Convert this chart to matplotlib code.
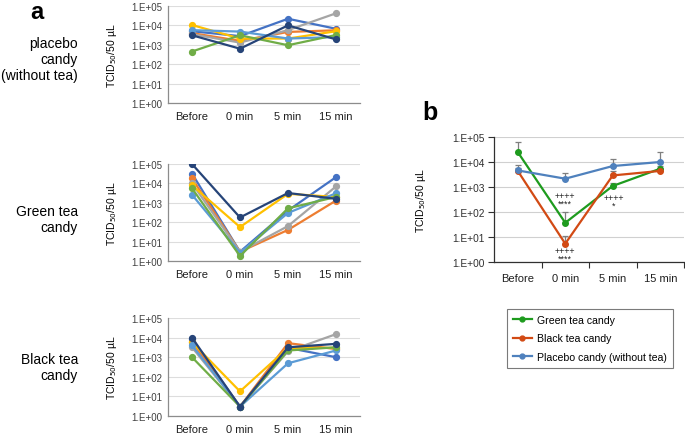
import matplotlib
matplotlib.use("Agg")
import matplotlib.pyplot as plt
from matplotlib.lines import Line2D
import numpy as np

plt.rcParams['font.family'] = ['Liberation Sans', 'DejaVu Sans']

categories = ["Before", "0 min", "5 min", "15 min"]
ytick_vals = [1, 10, 100, 1000, 10000, 100000]
ytick_labels = ["1.E+00", "1.E+01", "1.E+02", "1.E+03", "1.E+04", "1.E+05"]

series_colors = ["#4472C4", "#ED7D31", "#A5A5A5", "#FFC000", "#5B9BD5", "#70AD47", "#264478"]

# panel a: individual subjects
placebo = [
    [5000, 2800, 22000, 6700],
    [4000, 1600, 4600, 5600],
    [3500, 1300, 5700, 42000],
    [10500, 2100, 2100, 5000],
    [5700, 4800, 2100, 2500],
    [450, 3100, 950, 3200],
    [3100, 630, 10000, 1900],
]
green_tea = [
    [32000, 3, 400, 21000],
    [18000, 3, 40, 1300],
    [10000, 3, 63, 7000],
    [8000, 56, 2900, 2000],
    [2600, 2.7, 300, 3100],
    [5600, 1.8, 520, 2000],
    [100000, 175, 3200, 1600],
]
black_tea = [
    [8000, 3, 3000, 1000],
    [6000, 3, 5200, 2600],
    [3200, 3, 2000, 15000],
    [5800, 18, 3000, 3000],
    [4000, 3, 490, 2200],
    [1000, 3, 2200, 3200],
    [10000, 3, 3200, 4800],
]
row_labels = ["placebo\ncandy\n(without tea)", "Green tea\ncandy", "Black tea\ncandy"]

# panel b: means with upper error bars
b_labels = ["Green tea candy", "Black tea candy", "Placebo candy (without tea)"]
b_colors = ["#1E9B1E", "#D24A14", "#4F81BD"]
b_means = [
    [25000, 37, 1100, 5400],
    [4400, 5.4, 2900, 4400],
    [4600, 2150, 6900, 10000],
]
b_upper = [
    [61000, 100, 1500, 7000],
    [6000, 11, 4400, 5500],
    [7700, 3600, 13000, 25000],
]

W, H = 685, 435
fig = plt.figure(figsize=(W / 100, H / 100), dpi=100)

def fr(x0, y_top, x1, y_bot):
    return [x0 / W, 1 - y_bot / H, (x1 - x0) / W, (y_bot - y_top) / H]

a_rects = [fr(168, 7, 360, 104), fr(168, 165, 360, 262), fr(168, 319, 360, 417)]
row_centers = [60, 220, 368]
x = np.arange(len(categories))

for rect, data, lab, yc in zip(a_rects, [placebo, green_tea, black_tea], row_labels, row_centers):
    ax = fig.add_axes(rect)
    for vals, c in zip(data, series_colors):
        ax.plot(x, vals, color=c, lw=1.6, marker='o', ms=4.2, mec=c, mfc=c)
    ax.set_yscale('log')
    ax.set_ylim(1, 100000)
    ax.set_xlim(-0.5, 3.5)
    ax.set_yticks(ytick_vals)
    ax.set_yticklabels(ytick_labels)
    ax.yaxis.set_minor_locator(matplotlib.ticker.NullLocator())
    ax.set_xticks(x)
    ax.set_xticklabels(categories)
    ax.tick_params(axis='y', length=0, labelsize=7, pad=4, colors='#404040')
    ax.tick_params(axis='x', length=0, labelsize=8, pad=6, colors='#202020')
    ax.grid(axis='y', color='#DDDDDD', lw=0.8)
    ax.set_axisbelow(True)
    for s in ['top', 'right']:
        ax.spines[s].set_visible(False)
    for s in ['left', 'bottom']:
        ax.spines[s].set_color('#8C8C8C')
        ax.spines[s].set_linewidth(0.9)
    ax.set_ylabel("TCID$_{50}$/50 µL", fontsize=7.5)
    ax.yaxis.set_label_coords(-0.255, 0.5)
    fig.text(78 / W, 1 - yc / H, lab, ha='right', va='center', fontsize=10,
             linespacing=1.15, multialignment='right')

fig.text(37 / W, 1 - 19 / H, "a", fontsize=17, fontweight='bold', ha='center', va='baseline')
fig.text(430 / W, 1 - 120 / H, "b", fontsize=18, fontweight='bold', ha='center', va='baseline')

# panel b
axb = fig.add_axes(fr(494, 138, 684, 263))
handles = []
for m, u, c, lab in zip(b_means, b_upper, b_colors, b_labels):
    m = np.array(m, dtype=float)
    u = np.array(u, dtype=float)
    axb.errorbar(x, m, yerr=[np.zeros_like(m), u - m], fmt='none', ecolor='#7F7F7F',
                 elinewidth=0.9, capsize=2.5, capthick=0.9, zorder=2)
for m, c, lab in zip(b_means, b_colors, b_labels):
    axb.plot(x, m, color=c, lw=1.6, marker='o', ms=4, zorder=3)
    handles.append(Line2D([0], [0], color=c, lw=1.6, marker='o', ms=3.5, label=lab))
axb.set_yscale('log')
axb.set_ylim(1, 100000)
axb.set_xlim(-0.5, 3.5)
axb.set_yticks(ytick_vals)
axb.set_yticklabels(ytick_labels)
axb.yaxis.set_minor_locator(matplotlib.ticker.NullLocator())
axb.set_xticks(x)
axb.set_xticklabels(categories)
axb.set_xticks(np.arange(0.5, 3.6, 1.0), minor=True)
axb.tick_params(axis='x', which='major', length=0, labelsize=8, pad=8, colors='#202020')
axb.tick_params(axis='x', which='minor', length=4, width=0.8, direction='out', color='#303030')
axb.tick_params(axis='y', length=4, width=0.8, direction='out', labelsize=7.3, pad=3, colors='#303030')
axb.grid(axis='y', color='#D0D0D0', lw=0.8)
axb.set_axisbelow(True)
for s in ['top', 'right']:
    axb.spines[s].set_visible(False)
for s in ['left', 'bottom']:
    axb.spines[s].set_color('#303030')
    axb.spines[s].set_linewidth(0.9)
axb.set_ylabel("TCID$_{50}$/50 µL", fontsize=7.5)
axb.yaxis.set_label_coords(-0.347, 0.5)

ann_kw = dict(ha='center', va='center', fontsize=6.5, linespacing=0.75, color='#202020')
axb.text(1, 10 ** 2.5, "++++\n****", **ann_kw)
axb.text(1, 10 ** 0.3, "++++\n****", **ann_kw)
axb.text(2.02, 10 ** 2.42, "++++\n*", **ann_kw)

leg = fig.legend(handles=handles, loc='upper left', bbox_to_anchor=(507 / W, 1 - 310 / H),
                 fontsize=7.6, frameon=True, fancybox=False, borderaxespad=0,
                 handlelength=1.8, labelspacing=0.8, borderpad=0.55, handletextpad=0.5)
leg.get_frame().set_edgecolor('#595959')
leg.get_frame().set_linewidth(0.8)

fig.savefig("out.png", dpi=100)
